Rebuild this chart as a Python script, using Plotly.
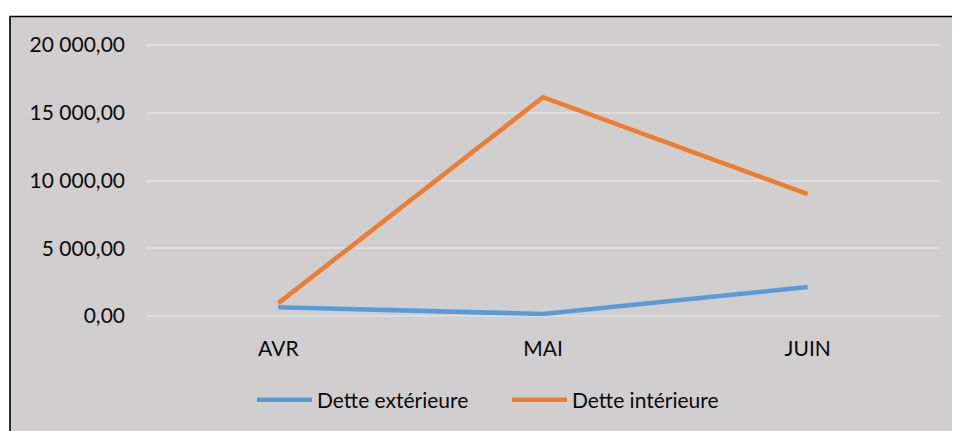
import plotly.graph_objects as go

mois = ["AVR", "MAI", "JUIN"]
dette_exterieure = [650, 150, 2140]
dette_interieure = [950, 16150, 9000]

# the page body adds an 8px margin, so positions are measured on the page and shifted
OFF = 8
W, H = 960, 431
PAD = 3  # room above the 20 000 gridline so it is not clipped
L, R, T, B = 146 - OFF, 20 + OFF, 45 - OFF - PAD, 115 + OFF
pw, ph = W - L - R, H - T - B
ymax = 20000 * ph / (ph - PAD)

def px_x(p):
    return (p - OFF - L) / pw

def px_y(p):
    return (H - B - (p - OFF)) / ph

fig = go.Figure()
fig.add_trace(go.Scatter(x=mois, y=dette_exterieure, name="Dette extérieure",
                         mode="lines", line=dict(color="#5B9BD5", width=4.5)))
fig.add_trace(go.Scatter(x=mois, y=dette_interieure, name="Dette intérieure",
                         mode="lines", line=dict(color="#ED7D31", width=4.5)))

# grey chart area with black frame, as in the spreadsheet export
fig.add_shape(type="rect", xref="paper", yref="paper", layer="below",
              x0=px_x(10), x1=px_x(990), y0=px_y(460), y1=px_y(16.5),
              fillcolor="#D0CECE", line=dict(color="black", width=1.6))

fig.update_layout(
    width=W, height=H,
    margin=dict(l=L, r=R, t=T, b=B),
    paper_bgcolor="white",
    plot_bgcolor="rgba(0,0,0,0)",
    font=dict(family="Lato", size=21, color="#0A0A0A"),
    separators=", ",
    showlegend=True,
    legend=dict(orientation="h", x=px_x(252), xanchor="left",
                y=px_y(400), yanchor="middle",
                bgcolor="rgba(0,0,0,0)", itemwidth=55, entrywidth=185,
                font=dict(size=21)),
    xaxis=dict(type="category", range=[-0.5, 2.5], showgrid=False,
               zeroline=False, showline=False, ticks="",
               ticklabelstandoff=18, fixedrange=True),
    yaxis=dict(range=[0, ymax], tickvals=[0, 5000, 10000, 15000, 20000],
               tickformat=",.2f",
               showgrid=True, gridcolor="#DCDCDC", gridwidth=1.5,
               zeroline=True, zerolinecolor="#DCDCDC", zerolinewidth=1.5,
               showline=False, ticks="", ticklabelstandoff=20),
)

fig.write_html("out.html")
